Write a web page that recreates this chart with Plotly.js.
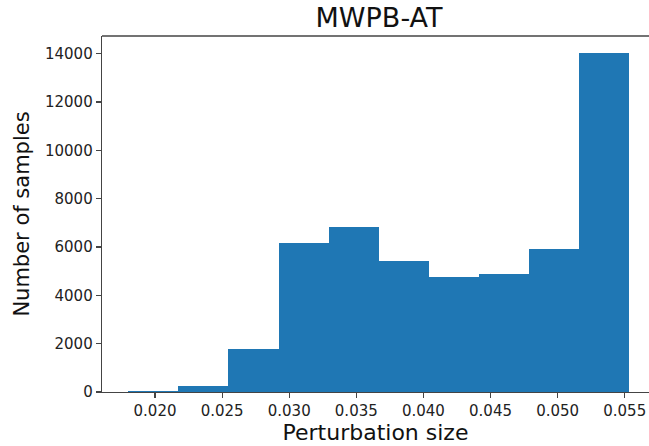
<!DOCTYPE html>
<html>
<head>
<meta charset="utf-8">
<script src="https://cdn.plot.ly/plotly-3.0.1.min.js"></script>
<style>
html, body { margin: 0; padding: 0; overflow: hidden; background: #fff; }
#chart { width: 649px; height: 446px; }
</style>
</head>
<body>
<div id="chart"></div>
<script>
// Histogram bin edges (perturbation size) and counts
const binEdges = [0.01800, 0.02173, 0.02547, 0.02921, 0.03294, 0.03668, 0.04041, 0.04415, 0.04789, 0.05162, 0.05535];
const counts = [30, 230, 1800, 6170, 6850, 5420, 4740, 4870, 5900, 14020];
const xTickVals = [0.020, 0.025, 0.030, 0.035, 0.040, 0.045, 0.050, 0.055];
const xTickText = ["0.020", "0.025", "0.030", "0.035", "0.040", "0.045", "0.050", "0.055"];
const yTickVals = [0, 2000, 4000, 6000, 8000, 10000, 12000, 14000];
const yTickText = ["0", "2000", "4000", "6000", "8000", "10000", "12000", "14000"];

const centers = counts.map((_, i) => (binEdges[i] + binEdges[i + 1]) / 2);
const widths = counts.map((_, i) => binEdges[i + 1] - binEdges[i]);

const font = "DejaVu Sans, sans-serif";

const trace = {
  type: "bar",
  x: centers,
  y: counts,
  width: widths,
  marker: { color: "#1f77b4", line: { width: 0 } },
  hoverinfo: "x+y"
};

const layout = {
  width: 649,
  height: 446,
  margin: { l: 102, r: 0, t: 36, b: 54 },
  paper_bgcolor: "#ffffff",
  plot_bgcolor: "#ffffff",
  showlegend: false,
  bargap: 0,
  font: { family: font, color: "#222" },
  title: {
    text: "MWPB-AT",
    x: 379 / 649, xref: "container", xanchor: "center",
    y: 1 - 18 / 446, yref: "container", yanchor: "middle",
    font: { family: font, size: 27, color: "#111" }
  },
  xaxis: {
    range: [0.016051, 0.05681],
    tickvals: xTickVals,
    ticktext: xTickText,
    ticks: "outside",
    ticklen: 5,
    tickwidth: 1.2,
    tickcolor: "#444",
    tickfont: { family: font, size: 15, color: "#222" },
    showline: true,
    linecolor: "#444",
    linewidth: 1.3,
    showgrid: false,
    zeroline: false,
    title: { text: "Perturbation size", standoff: 1, font: { family: font, size: 22, color: "#111" } }
  },
  yaxis: {
    range: [0, 14735],
    tickvals: yTickVals,
    ticktext: yTickText,
    ticks: "outside",
    ticklen: 5,
    tickwidth: 1.2,
    tickcolor: "#444",
    tickfont: { family: font, size: 15, color: "#222" },
    showline: true,
    linecolor: "#444",
    linewidth: 1.3,
    showgrid: false,
    zeroline: false,
    title: { text: "Number of samples", standoff: 9, font: { family: font, size: 21, color: "#111" } }
  },
  shapes: [
    { type: "line", xref: "paper", yref: "paper", x0: 0, x1: 1, y0: 1, y1: 1,
      line: { color: "#444", width: 1.3 } }
  ]
};

Plotly.newPlot("chart", [trace], layout, { staticPlot: true, displayModeBar: false });
</script>
</body>
</html>
